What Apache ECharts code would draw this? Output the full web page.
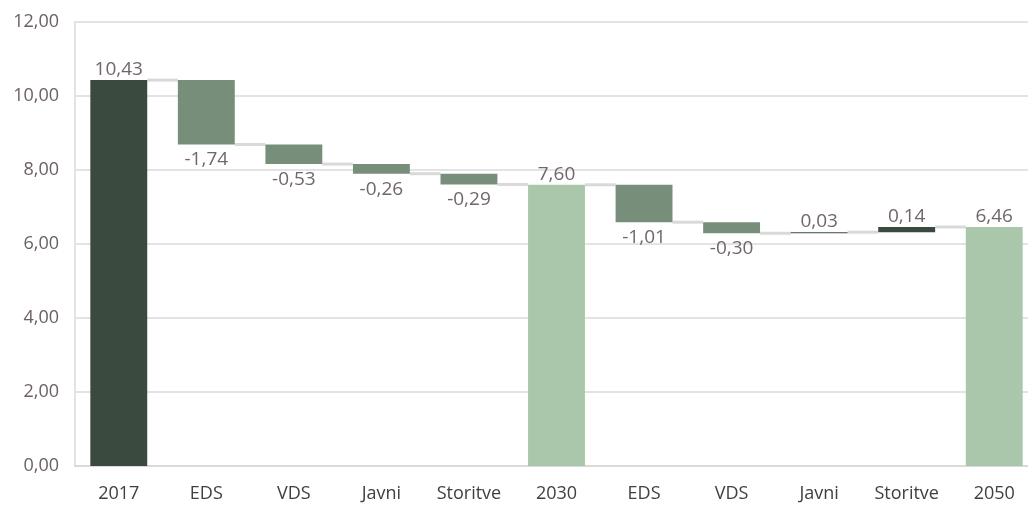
<!DOCTYPE html>
<html>
<head>
<meta charset="utf-8">
<script src="https://cdn.jsdelivr.net/npm/echarts@6/dist/echarts.min.js"></script>
<style>
  html, body { margin: 0; padding: 0; background: #fff; }
  #chart { width: 1028px; height: 505px; }
</style>
</head>
<body>
<div id="chart"></div>
<script>
// podatki
const categories = ['2017', 'EDS', 'VDS', 'Javni', 'Storitve', '2030', 'EDS', 'VDS', 'Javni', 'Storitve', '2050'];
const values = [10.43, -1.74, -0.53, -0.26, -0.29, 7.60, -1.01, -0.30, 0.03, 0.14, 6.46];
const kinds = ['start', 'delta', 'delta', 'delta', 'delta', 'total', 'delta', 'delta', 'delta', 'delta', 'total'];
const yTicks = [0, 2, 4, 6, 8, 10, 12];

const colors = {
  start: '#3b4a3f',
  total: '#abc7ab',
  down: '#778f7a',
  up: '#3b4a3f'
};
const font = '"Open Sans", sans-serif';
const fmt = v => v.toFixed(2).replace('.', ',');

// izracun baze in nivojev
let level = 0;
const base = [], size = [], levels = [];
values.forEach((v, i) => {
  if (kinds[i] !== 'delta') {
    base.push(0);
    size.push(v);
    level = v;
  } else {
    base.push(Math.min(level, level + v));
    size.push(Math.abs(v));
    level = level + v;
  }
  levels.push(level);
});

const barPct = 0.65;

const chart = echarts.init(document.getElementById('chart'));
chart.setOption({
  animation: false,
  grid: { left: 75, width: 963, top: 22, bottom: 39, outerBoundsMode: 'none', containLabel: false },
  xAxis: {
    type: 'category',
    data: categories,
    axisLine: { show: true, lineStyle: { color: '#d9d9d9', width: 2 } },
    axisTick: { show: false },
    axisLabel: { color: '#404040', fontSize: 18, fontFamily: font, margin: 19 }
  },
  yAxis: {
    type: 'value',
    min: yTicks[0],
    max: yTicks[yTicks.length - 1],
    interval: 2,
    axisLine: { show: true, lineStyle: { color: '#e3e3e3', width: 2 } },
    axisTick: { show: false },
    splitLine: { lineStyle: { color: '#e3e3e3', width: 2 } },
    axisLabel: { color: '#6b6063', fontSize: 18, fontFamily: font, margin: 16, formatter: v => fmt(v) }
  },
  series: [
    {
      type: 'bar',
      stack: 'w',
      barWidth: (barPct * 100) + '%',
      itemStyle: { color: 'transparent' },
      silent: true,
      data: base
    },
    {
      type: 'bar',
      stack: 'w',
      barWidth: (barPct * 100) + '%',
      data: size.map((s, i) => {
        const v = values[i];
        const down = kinds[i] === 'delta' && v < 0;
        const c = colors[kinds[i]] || (v < 0 ? colors.down : colors.up);
        return {
          value: s,
          itemStyle: { color: c },
          label: { position: down ? 'bottom' : 'top', distance: down ? 6 : 1 }
        };
      }),
      label: {
        show: true,
        color: '#716669',
        fontSize: 19,
        fontFamily: font,
        formatter: p => fmt(values[p.dataIndex])
      }
    },
    {
      type: 'custom',
      silent: true,
      z: 1,
      data: levels.slice(0, -1).map((l, i) => [i, l]),
      renderItem: (params, api) => {
        const p = api.coord([api.value(0), api.value(1)]);
        const w = api.size([1, 0])[0];
        const bw = w * barPct;
        return {
          type: 'line',
          shape: { x1: p[0] + bw / 2, y1: p[1], x2: p[0] + w - bw / 2, y2: p[1] },
          style: { stroke: '#d9d9d9', lineWidth: 3 }
        };
      }
    }
  ]
});
</script>
</body>
</html>
